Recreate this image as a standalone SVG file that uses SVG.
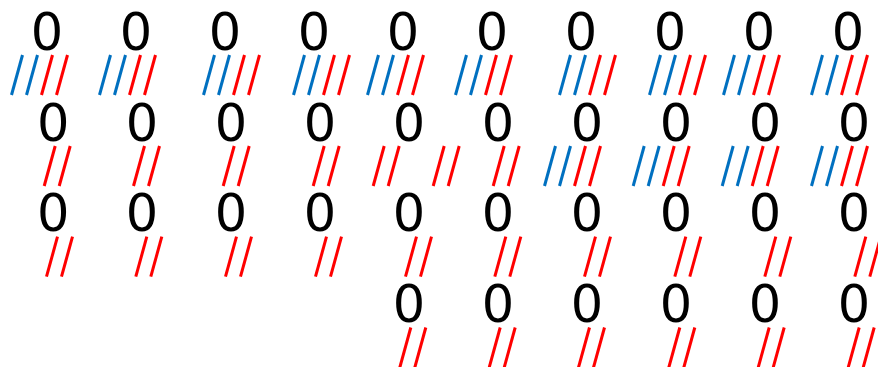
<svg xmlns="http://www.w3.org/2000/svg" xmlns:xlink="http://www.w3.org/1999/xlink" width="878" height="367" viewBox="0 0 878 367">
<style>
.z{font-family:"DejaVu Sans",sans-serif;font-size:51px;fill:#000;text-anchor:middle}
.b{stroke:#0070C0}
.r{stroke:#FF0000}
.s{stroke-width:3;stroke-linecap:butt;fill:none}
</style>
<defs>
<line id="sl" class="s" x1="0" y1="40" x2="11" y2="0"/>
<g id="rr"><use xlink:href="#sl" class="r" x="0"/><use xlink:href="#sl" class="r" x="15"/></g>
<g id="bbrr"><use xlink:href="#sl" class="b" x="0"/><use xlink:href="#sl" class="b" x="15"/><use xlink:href="#sl" class="r" x="30"/><use xlink:href="#sl" class="r" x="45"/></g>
</defs>
<rect width="878" height="367" fill="#fff"/>
<!-- Row 1 -->
<g id="r1c1"><text class="z" x="47" y="49.5">0</text><use xlink:href="#bbrr" x="11.5" y="55"/></g>
<g id="r1c2"><text class="z" x="136" y="49.5">0</text><use xlink:href="#bbrr" x="99.5" y="55"/></g>
<g id="r1c3"><text class="z" x="225" y="49.5">0</text><use xlink:href="#bbrr" x="203.5" y="55"/></g>
<g id="r1c4"><text class="z" x="314" y="49.5">0</text><use xlink:href="#bbrr" x="293.5" y="55"/></g>
<g id="r1c5"><text class="z" x="403" y="49.5">0</text><use xlink:href="#bbrr" x="367.5" y="55"/></g>
<g id="r1c6"><text class="z" x="492" y="49.5">0</text><use xlink:href="#bbrr" x="455.5" y="55"/></g>
<g id="r1c7"><text class="z" x="581" y="49.5">0</text><use xlink:href="#bbrr" x="559.5" y="55"/></g>
<g id="r1c8"><text class="z" x="670" y="49.5">0</text><use xlink:href="#bbrr" x="649.5" y="55"/></g>
<g id="r1c9"><text class="z" x="759" y="49.5">0</text><use xlink:href="#bbrr" x="723.5" y="55"/></g>
<g id="r1c10"><text class="z" x="848" y="49.5">0</text><use xlink:href="#bbrr" x="811.5" y="55"/></g>
<!-- Row 2 -->
<g id="r2c1"><text class="z" x="53.3" y="140.5">0</text><use xlink:href="#rr" x="44.2" y="146"/></g>
<g id="r2c2"><text class="z" x="142" y="140.5">0</text><use xlink:href="#rr" x="133.5" y="146"/></g>
<g id="r2c3"><text class="z" x="231" y="140.5">0</text><use xlink:href="#rr" x="223.2" y="146"/></g>
<g id="r2c4"><text class="z" x="320" y="140.5">0</text><use xlink:href="#rr" x="313.2" y="146"/></g>
<g id="r2c5"><text class="z" x="409" y="140.5">0</text><use xlink:href="#rr" x="373.2" y="146"/><use xlink:href="#rr" x="433.2" y="146"/></g>
<g id="r2c6"><text class="z" x="498" y="140.5">0</text><use xlink:href="#rr" x="493.2" y="146"/></g>
<g id="r2c7"><text class="z" x="587" y="140.5">0</text><use xlink:href="#bbrr" x="544.5" y="146"/></g>
<g id="r2c8"><text class="z" x="676" y="140.5">0</text><use xlink:href="#bbrr" x="633.2" y="146"/></g>
<g id="r2c9"><text class="z" x="765" y="140.5">0</text><use xlink:href="#bbrr" x="722.2" y="146"/></g>
<g id="r2c10"><text class="z" x="854" y="140.5">0</text><use xlink:href="#bbrr" x="811.5" y="146"/></g>
<!-- Row 3 -->
<g id="r3c1"><text class="z" x="53.3" y="231">0</text><use xlink:href="#rr" x="46.5" y="236.7"/></g>
<g id="r3c2"><text class="z" x="142" y="231">0</text><use xlink:href="#rr" x="135.8" y="236.7"/></g>
<g id="r3c3"><text class="z" x="231" y="231">0</text><use xlink:href="#rr" x="225.5" y="236.7"/></g>
<g id="r3c4"><text class="z" x="320" y="231">0</text><use xlink:href="#rr" x="315.5" y="236.7"/></g>
<g id="r3c5"><text class="z" x="409" y="231">0</text><use xlink:href="#rr" x="405.5" y="236.7"/></g>
<g id="r3c6"><text class="z" x="498" y="231">0</text><use xlink:href="#rr" x="494.8" y="236.7"/></g>
<g id="r3c7"><text class="z" x="587" y="231">0</text><use xlink:href="#rr" x="584.5" y="236.7"/></g>
<g id="r3c8"><text class="z" x="676" y="231">0</text><use xlink:href="#rr" x="674.8" y="236.7"/></g>
<g id="r3c9"><text class="z" x="765" y="231">0</text><use xlink:href="#rr" x="764.8" y="236.7"/></g>
<g id="r3c10"><text class="z" x="854" y="231">0</text><use xlink:href="#rr" x="854.8" y="236.7"/></g>
<!-- Row 4 -->
<g id="r4c5"><text class="z" x="409" y="322">0</text><use xlink:href="#rr" x="399.8" y="327.5"/></g>
<g id="r4c6"><text class="z" x="498" y="322">0</text><use xlink:href="#rr" x="489.2" y="327.5"/></g>
<g id="r4c7"><text class="z" x="587" y="322">0</text><use xlink:href="#rr" x="578.5" y="327.5"/></g>
<g id="r4c8"><text class="z" x="676" y="322">0</text><use xlink:href="#rr" x="668.8" y="327.5"/></g>
<g id="r4c9"><text class="z" x="765" y="322">0</text><use xlink:href="#rr" x="758.2" y="327.5"/></g>
<g id="r4c10"><text class="z" x="854" y="322">0</text><use xlink:href="#rr" x="848.2" y="327.5"/></g>
</svg>
